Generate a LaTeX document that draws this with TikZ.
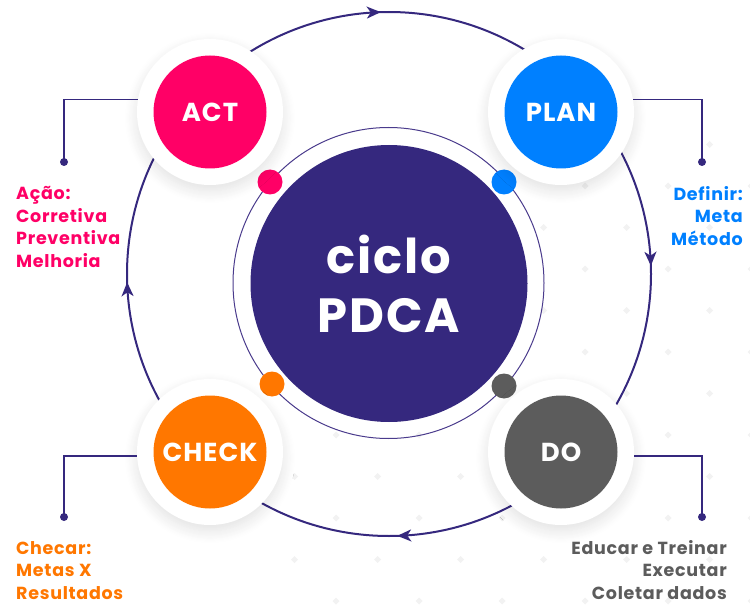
\documentclass[tikz,border=0pt]{standalone}
\usepackage{fontspec}
\setmainfont{Poppins}[LetterSpace=4]
\usetikzlibrary{arrows.meta,decorations.markings,shadows.blur}
\definecolor{pdcapurple}{HTML}{35287E}
\definecolor{ringpurple}{HTML}{4A3B8C}
\definecolor{actcol}{HTML}{FF0066}
\definecolor{plancol}{HTML}{0080FF}
\definecolor{checkcol}{HTML}{FF7700}
\definecolor{docol}{HTML}{5C5C5C}
\begin{document}
\begin{tikzpicture}[x=1pt, y=-1pt,
  halo/.style={circle, fill=white, minimum size=146pt, inner sep=0pt,
    blur shadow={shadow xshift=0pt, shadow yshift=-6pt, shadow blur radius=12pt, shadow blur steps=12, shadow opacity=12}},
  phase/.style={circle, fill=#1, minimum size=113pt, inner sep=0pt, text=white, font=\bfseries\fontsize{26}{26}\selectfont},
  ringdot/.style={circle, fill=#1, minimum size=25pt, inner sep=0pt},
  enddot/.style={circle, fill=pdcapurple, minimum size=8pt, inner sep=0pt},
  callout/.style={draw=pdcapurple, line width=1.5pt},
  note/.style={text=#1, inner sep=0pt, font=\bfseries\fontsize{17.5}{22.5}\selectfont},
  diam/.style={fill=gray!10},
  cyclearrow/.style={decoration={markings,
    mark=at position 0.12 with {\arrow{Stealth[length=14pt,width=12pt,inset=4pt]}},
    mark=at position 0.37 with {\arrow{Stealth[length=14pt,width=12pt,inset=4pt]}},
    mark=at position 0.62 with {\arrow{Stealth[length=14pt,width=12pt,inset=4pt]}},
    mark=at position 0.87 with {\arrow{Stealth[length=14pt,width=12pt,inset=4pt]}}},
    postaction={decorate}}]
\useasboundingbox (0,0) rectangle (750,607);
\begin{scope}
\clip (750,607) circle (475);
\foreach \u in {-8,...,4}
  \foreach \v in {-6,...,6}
    \fill[diam] ({585+41.5*(\u+\v)},{269+41.5*(\v-\u)}) ++(0,-3.5) -- ++(3.5,3.5) -- ++(-3.5,3.5) -- ++(-3.5,-3.5) -- cycle;
\end{scope}
\draw[pdcapurple, line width=2pt, cyclearrow] (389,274) ++(-45:262) arc[start angle=-45, end angle=315, radius=262];
\draw[ringpurple, line width=1pt] (388.5,283) circle (155.5);
\node[circle, fill=pdcapurple, minimum size=277pt, inner sep=0pt, text=white, align=center, font=\bfseries\fontsize{48}{59}\selectfont] (core) at (389,283.5) {ciclo\\PDCA};
\node[ringdot=actcol] (actpin) at (270,182) {};
\node[ringdot=plancol] (planpin) at (504,182) {};
\node[ringdot=checkcol] (checkpin) at (272,384) {};
\node[ringdot=docol] (dopin) at (504,386) {};
\node[halo] (acthalo) at (210,112) {};
\node[phase=actcol] (act) at (acthalo) {ACT};
\node[halo] (planhalo) at (561,112) {};
\node[phase=plancol] (plan) at (planhalo) {PLAN};
\node[halo] (checkhalo) at (210,452) {};
\node[phase=checkcol] (check) at (checkhalo) {CHECK};
\node[halo] (dohalo) at (561,452) {};
\node[phase=docol] (do) at (dohalo) {DO};
\node[enddot] (actend) at (64,162) {};
\node[enddot] (planend) at (702,162) {};
\node[enddot] (checkend) at (64,517) {};
\node[enddot] (doend) at (702,517) {};
\draw[callout] (acthalo.170) -| (actend.center);
\draw[callout] (planhalo.10) -| (planend.center);
\draw[callout] (checkhalo.183) -| (checkend.center);
\draw[callout] (dohalo.-3) -| (doend.center);
\node[note=actcol, anchor=base west, align=left] (actnote) at (16,267) {Ação:\\Corretiva\\Preventiva\\Melhoria};
\node[note=plancol, anchor=base east, align=right] (plannote) at (743,245) {Definir:\\Meta\\Método};
\node[note=checkcol, anchor=base west, align=left] (checknote) at (16,599) {Checar:\\Metas X\\Resultados};
\node[note=docol, anchor=base east, align=right] (donote) at (727,599) {Educar e Treinar\\Executar\\Coletar dados};
\end{tikzpicture}
\end{document}
